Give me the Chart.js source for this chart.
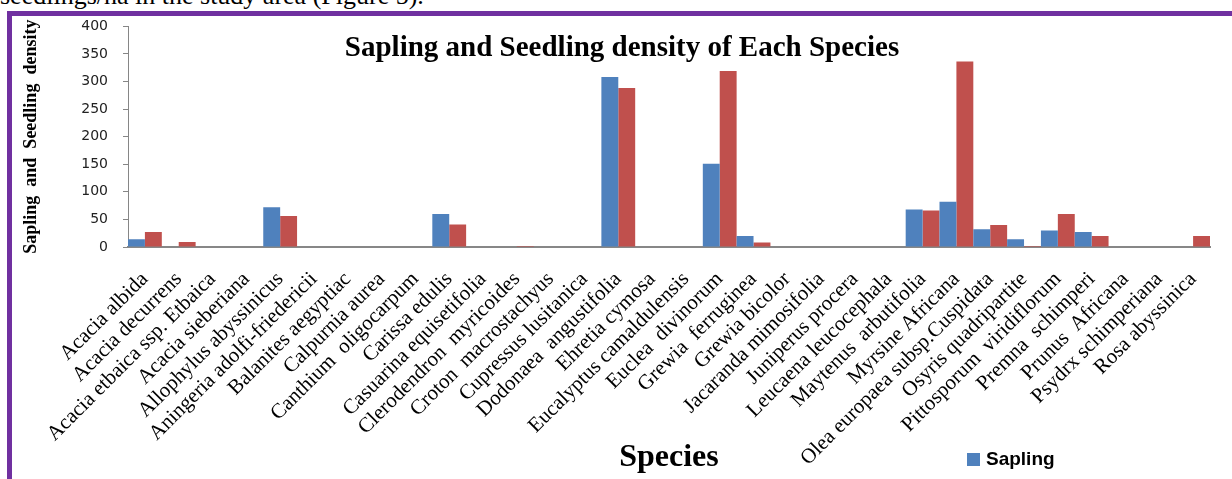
<!DOCTYPE html>
<html>
<head>
<meta charset="utf-8">
<script src="https://cdn.jsdelivr.net/npm/chart.js@4.4.0/dist/chart.umd.min.js"></script>
<style>
  html, body { margin: 0; padding: 0; width: 1232px; height: 479px; overflow: hidden; background: #fff; }
  #pageText { position: absolute; left: 0; top: -17px; font: 26px "Liberation Serif", "Times New Roman", serif; line-height: 26px; white-space: nowrap; color: #000; }
  #frame { position: absolute; left: 7px; top: 11px; width: 1240px; height: 480px; border: 5px solid #7030A0; box-sizing: border-box; }
  #chartBox { position: absolute; left: 0; top: 0; width: 1232px; height: 479px; }
  #legend { position: absolute; left: 967px; top: 448px; font: bold 19px "Liberation Sans", Arial, sans-serif; color: #000; }
  #legend .sw { display: inline-block; width: 13px; height: 13px; background: #4F81BD; margin-right: 6px; vertical-align: -1px; }
</style>
</head>
<body>
<div id="pageText">seedlings/ha in the study area (Figure 5).</div>
<div id="frame"></div>
<div id="chartBox"><canvas id="densityChart" width="1232" height="479"></canvas></div>
<div id="legend"><span class="sw"></span>Sapling</div>
<script>
// species on the x axis
const species = [
  "Acacia albida", "Acacia decurrens", "Acacia etbaica ssp. Etbaica", "Acacia sieberiana",
  "Allophylus abyssinicus", "Aningeria adolfi-friedericii", "Balanites aegyptiac", "Calpurnia aurea",
  "Canthium  oligocarpum", "Carissa edulis", "Casuarina equisetifolia", "Clerodendron  myricoides",
  "Croton  macrostachyus", "Cupressus lusitanica", "Dodonaea  angustifolia", "Ehretia cymosa",
  "Eucalyptus camaldulensis", "Euclea  divinorum", "Grewia  ferruginea", "Grewia bicolor",
  "Jacaranda mimosifolia", "Juniperus procera", "Leucaena leucocephala", "Maytenus  arbutifolia",
  "Myrsine Africana", "Olea europaea subsp.Cuspidata", "Osyris quadripartite", "Pittosporum  viridiflorum",
  "Premna  schimperi", "Prunus  Africana", "Psydrx schimperiana", "Rosa abyssinica"
];

// density values
const sapling = [14, 0, 0, 0, 72, 0, 0, 0, 0, 60, 0, 0, 0, 0, 308, 0,
                 0, 151, 20, 0, 0, 0, 0, 68, 82, 32, 14, 30, 27, 0, 0, 0];
const seedling = [27, 9, 0, 0, 56, 0, 0, 0, 0, 41, 0, 2, 0, 0, 288, 0,
                  0, 319, 8, 0, 0, 0, 0, 66, 336, 40, 2, 60, 20, 0, 0, 20];

const yMax = 400;
const yStep = 50;

const serif = "'Liberation Serif', 'Times New Roman', serif";

const ctx = document.getElementById("densityChart").getContext("2d");
const densityChart = new Chart(ctx, {
  type: "bar",
  data: {
    labels: species,
    datasets: [
      {
        label: "Sapling",
        data: sapling,
        backgroundColor: "#4F81BD",
        categoryPercentage: 1.0,
        barPercentage: 1.0,
        inflateAmount: 0,
      },
      {
        label: "Seedling",
        data: seedling,
        backgroundColor: "#C0504D",
        categoryPercentage: 1.0,
        barPercentage: 1.0,
        inflateAmount: 0,
      },
    ],
  },
  options: {
    responsive: false,
    animation: false,
    layout: {
      padding: { left: 34, right: 22, top: 0, bottom: 0 },
    },
    plugins: {
      legend: { display: false },
      tooltip: { enabled: false },
      title: {
        display: true,
        text: "Sapling and Seedling density of Each Species",
        color: "#000",
        font: { family: serif, size: 29, weight: "bold" },
        // title sits inside the plot, so it takes almost no room
        padding: { top: 31, bottom: -39.5 },
      },
    },
    scales: {
      x: {
        grid: { display: false, drawTicks: false },
        border: { color: "#878787", width: 2 },
        ticks: {
          autoSkip: false,
          minRotation: 45,
          maxRotation: 45,
          padding: 20,
          color: "#000",
          font: { family: serif, size: 21 },
        },
        title: {
          display: true,
          text: "Species",
          color: "#000",
          font: { family: serif, size: 32, weight: "bold" },
          padding: { top: 0, bottom: 2 },
        },
        afterFit(scale) {
          // labels run down behind the axis title, as in the original
          scale.height = 232;
        },
      },
      y: {
        min: 0,
        max: yMax,
        ticks: {
          stepSize: yStep,
          padding: 15,
          color: "#222",
          font: { family: "'DejaVu Sans', Verdana, sans-serif", size: 14 },
        },
        grid: { drawOnChartArea: false, tickLength: 5, color: "#868686" },
        border: { color: "#868686" },
        title: {
          display: true,
          text: "Sapling  and  Seedling  density",
          color: "#000",
          font: { family: serif, size: 18, weight: "bold" },
          padding: { top: -13, bottom: 4 },
        },
        afterFit(scale) {
          scale.width = 94;
        },
      },
    },
  },
});
</script>
</body>
</html>
